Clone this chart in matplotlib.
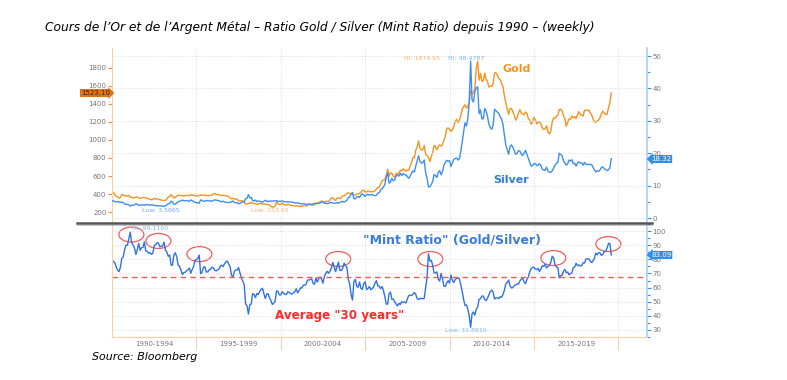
import numpy as np
import pandas as pd
import matplotlib
matplotlib.use("Agg")
import matplotlib.pyplot as plt
from matplotlib.patches import Ellipse
from matplotlib.lines import Line2D
from matplotlib.ticker import MultipleLocator, FixedLocator, NullFormatter
from matplotlib import font_manager

# monthly gold price (USD/oz), Jan 1990 .. Aug 2019
gold = [
    410, 417, 393, 374, 369, 352, 362, 395, 389, 381, 381, 378,  # 1990
    384, 364, 363, 358, 357, 367, 368, 356, 349, 359, 360, 361,  # 1991
    354, 354, 345, 338, 337, 341, 353, 343, 345, 344, 335, 334,  # 1992
    329, 329, 330, 342, 367, 372, 392, 378, 355, 364, 374, 383,  # 1993
    387, 382, 384, 377, 381, 386, 385, 380, 391, 389, 384, 380,  # 1994
    379, 377, 382, 391, 385, 387, 386, 383, 383, 383, 386, 387,  # 1995
    400, 405, 396, 393, 392, 385, 383, 387, 383, 381, 378, 369,  # 1996
    355, 347, 352, 344, 344, 341, 324, 324, 323, 325, 306, 289,  # 1997
    289, 297, 296, 308, 299, 292, 293, 284, 289, 296, 294, 291,  # 1998
    287, 287, 286, 282, 277, 262, 254, 257, 265, 311, 293, 283,  # 1999
    285, 301, 286, 280, 275, 286, 282, 274, 273, 270, 266, 272,  # 2000
    266, 262, 263, 261, 272, 270, 268, 273, 283, 283, 276, 276,  # 2001
    282, 296, 294, 303, 314, 322, 313, 310, 319, 317, 319, 333,  # 2002
    356, 359, 340, 328, 355, 356, 351, 360, 379, 378, 390, 407,  # 2003
    414, 405, 406, 404, 384, 392, 398, 400, 406, 420, 439, 442,  # 2004
    424, 423, 434, 429, 422, 430, 424, 437, 456, 470, 476, 510,  # 2005
    549, 555, 557, 610, 676, 596, 633, 632, 598, 586, 627, 629,  # 2006
    631, 665, 655, 679, 667, 655, 665, 665, 712, 754, 806, 803,  # 2007
    889, 922, 990, 909, 888, 889, 939, 839, 829, 806, 760, 816,  # 2008
    858, 943, 924, 890, 928, 945, 934, 949, 996, 1043, 1127, 1135,  # 2009
    1118, 1095, 1113, 1148, 1205, 1232, 1193, 1215, 1271, 1343, 1370, 1391,  # 2010
    1356, 1372, 1424, 1547, 1510, 1529, 1572, 1800, 1875, 1665, 1739, 1652,  # 2011
    1656, 1743, 1675, 1649, 1589, 1598, 1594, 1630, 1745, 1747, 1722, 1684,  # 2012
    1671, 1627, 1593, 1487, 1414, 1343, 1286, 1347, 1349, 1316, 1276, 1222,  # 2013
    1244, 1300, 1336, 1299, 1287, 1279, 1311, 1296, 1239, 1222, 1176, 1202,  # 2014
    1251, 1227, 1178, 1198, 1199, 1181, 1131, 1117, 1125, 1159, 1086, 1068,  # 2015
    1097, 1200, 1246, 1242, 1260, 1276, 1337, 1341, 1326, 1266, 1238, 1152,  # 2016
    1192, 1234, 1231, 1266, 1246, 1260, 1236, 1283, 1315, 1280, 1283, 1265,  # 2017
    1331, 1331, 1325, 1335, 1303, 1282, 1238, 1202, 1198, 1215, 1221, 1250,  # 2018
    1291, 1320, 1300, 1285, 1284, 1359, 1413, 1523.10,  # 2019
]

# monthly silver price (USD/oz)
silver = [
    5.22, 5.30, 5.07, 5.02, 5.10, 4.94, 4.86, 4.89, 4.76, 4.37, 4.23, 4.20,  # 1990
    4.05, 3.67, 3.96, 3.97, 4.06, 4.40, 4.24, 3.90, 4.04, 4.07, 4.07, 3.91,  # 1991
    4.12, 4.13, 4.09, 3.99, 4.03, 4.05, 3.94, 3.80, 3.76, 3.76, 3.77, 3.74,  # 1992
    3.68, 3.57, 3.81, 4.02, 4.47, 4.48, 5.16, 4.99, 4.27, 4.30, 4.57, 5.04,  # 1993
    5.16, 5.27, 5.55, 5.34, 5.38, 5.37, 5.30, 5.15, 5.58, 5.34, 5.13, 4.80,  # 1994
    4.75, 4.68, 4.60, 5.60, 5.44, 5.21, 5.16, 5.39, 5.39, 5.29, 5.30, 5.20,  # 1995
    5.40, 5.60, 5.52, 5.42, 5.37, 5.12, 5.05, 5.17, 4.98, 4.87, 4.80, 4.81,  # 1996
    4.76, 5.05, 5.24, 4.80, 4.75, 4.71, 4.37, 4.60, 4.85, 5.03, 4.94, 5.97,  # 1997
    6.14, 7.20, 6.19, 6.37, 5.36, 5.31, 5.54, 5.09, 5.25, 5.18, 5.01, 4.89,  # 1998
    5.16, 5.49, 5.17, 5.06, 5.25, 5.16, 5.29, 5.24, 5.26, 5.39, 5.11, 5.16,  # 1999
    5.20, 5.27, 5.11, 5.06, 5.00, 5.01, 5.00, 4.91, 4.93, 4.80, 4.66, 4.60,  # 2000
    4.73, 4.54, 4.40, 4.37, 4.41, 4.38, 4.30, 4.19, 4.33, 4.30, 4.17, 4.39,  # 2001
    4.52, 4.43, 4.60, 4.56, 4.66, 4.88, 4.96, 4.56, 4.56, 4.43, 4.55, 4.65,  # 2002
    4.82, 4.61, 4.57, 4.60, 4.75, 4.56, 4.86, 4.99, 5.16, 4.89, 5.16, 5.47,  # 2003
    6.28, 6.46, 7.39, 7.90, 5.97, 5.96, 6.53, 6.65, 6.35, 7.07, 7.48, 7.03,  # 2004
    6.61, 7.22, 7.31, 7.07, 7.22, 7.26, 7.01, 6.92, 7.03, 7.68, 7.80, 8.61,  # 2005
    9.04, 9.59, 10.39, 12.63, 14.00, 10.75, 11.15, 12.22, 11.53, 11.72, 12.96, 13.39,  # 2006
    12.92, 13.85, 13.09, 13.74, 13.38, 13.34, 12.81, 12.24, 13.03, 13.88, 14.58, 14.22,  # 2007
    16.10, 17.68, 19.23, 17.41, 16.96, 17.08, 17.93, 14.02, 12.36, 9.60, 9.66, 10.29,  # 2008
    11.31, 13.39, 13.11, 12.53, 14.07, 14.63, 13.33, 14.32, 16.35, 17.16, 17.81, 17.49,  # 2009
    17.71, 15.89, 17.09, 18.08, 18.35, 18.52, 17.90, 18.31, 20.61, 23.45, 26.56, 29.40,  # 2010
    28.41, 30.65, 35.78, 48.48, 36.50, 35.80, 38.90, 40.20, 40.50, 32.20, 33.40, 30.60,  # 2011
    30.70, 33.80, 33.00, 31.40, 28.90, 27.90, 27.40, 28.70, 33.60, 33.10, 32.70, 32.30,  # 2012
    31.20, 30.60, 28.90, 25.60, 22.60, 21.10, 19.70, 22.00, 22.60, 21.90, 20.80, 19.70,  # 2013
    19.90, 20.80, 20.70, 19.70, 19.30, 20.00, 20.90, 19.70, 18.40, 17.20, 16.00, 16.20,  # 2014
    16.80, 16.80, 16.20, 16.30, 16.80, 16.10, 15.00, 14.90, 14.70, 15.70, 14.50, 14.10,  # 2015
    14.10, 14.60, 15.40, 16.30, 16.90, 17.20, 20.00, 19.60, 19.30, 17.70, 17.00, 16.30,  # 2016
    16.80, 17.90, 17.60, 18.00, 16.80, 16.90, 16.00, 17.00, 17.30, 17.00, 17.00, 16.30,  # 2017
    17.20, 16.60, 16.50, 16.60, 16.50, 16.50, 15.70, 14.90, 14.20, 14.60, 14.40, 14.80,  # 2018
    15.60, 15.80, 15.20, 15.00, 14.60, 14.90, 15.50, 18.32,  # 2019
]

gold_ticks = [200, 400, 600, 800, 1000, 1200, 1400, 1600, 1800]
silver_ticks = [0, 10, 20, 30, 40, 50]
ratio_ticks = [30, 40, 50, 60, 70, 80, 90, 100]
period_labels = ["1990-1994", "1995-1999", "2000-2004", "2005-2009",
                 "2010-2014", "2015-2019"]
ratio_average = 67.4
# peaks circled on the ratio chart (year, ratio)
circled_peaks = [(1991.15, 97.5), (1992.75, 93.0), (1995.18, 83.7), (2003.4, 80.2),
                 (2008.86, 80.2), (2016.15, 80.9), (2019.41, 90.8)]

W, H = 787, 380
ORANGE = "#f7931e"
BLUE = "#3d8ef2"
RATIO_BLUE = "#2f72e4"
GRID = "#dedede"


def fx(x):
    return x / W


def fy(y):
    return 1 - y / H


# pick a narrow font for the title if one is installed
installed = {f.name for f in font_manager.fontManager.ttflist}
narrow = [f for f in ["Liberation Sans Narrow", "DejaVu Sans Condensed"] if f in installed]
if narrow:
    title_font = dict(family=narrow[0], fontsize=10)
    source_font = dict(family=narrow[0], fontsize=9.5)
else:
    title_font = dict(family="DejaVu Sans", fontsize=8.8)
    source_font = dict(family="DejaVu Sans", fontsize=7.9)

months = pd.date_range("1990-01-01", periods=len(gold), freq="MS")
t = months.year + (months.month - 1) / 12
gold_a = np.array(gold, dtype=float)
silver_a = np.array(silver, dtype=float)
ratio = gold_a / silver_a

fig = plt.figure(figsize=(W / 100, H / 100), dpi=100)
fig.patch.set_facecolor("white")

x0, x1 = 112, 647
ax1 = fig.add_axes([fx(x0), fy(222), (x1 - x0) / W, (222 - 48) / H])
ax1r = ax1.twinx()
ax2 = fig.add_axes([fx(x0), fy(337), (x1 - x0) / W, (337 - 224) / H])

xlim = (1990.0, 2021.7)
five_years = [1995, 2000, 2005, 2010, 2015, 2020]

# --- top panel: gold (left) & silver (right)
ax1.plot(t, gold_a, color=ORANGE, lw=1.0)
ax1r.plot(t, silver_a, color=BLUE, lw=1.0)
ax1.set_xlim(*xlim)
ax1.set_ylim(89, 2022)
ax1r.set_ylim(-1.23, 52.5)
ax1.set_yticks(gold_ticks)
ax1r.set_yticks(silver_ticks)
ax1r.yaxis.set_minor_locator(MultipleLocator(5))
ax1.xaxis.set_major_locator(FixedLocator(five_years))
ax1.tick_params(axis="x", length=0, labelbottom=False)
ax1.tick_params(axis="y", colors=ORANGE, labelcolor="#777777", labelsize=5,
                length=3, width=0.8, pad=1)
ax1r.tick_params(axis="y", which="both", colors=BLUE, labelcolor="#777777",
                 labelsize=5, length=3, width=0.8, pad=1)
ax1r.tick_params(axis="y", which="minor", length=2)
ax1.grid(axis="x", color=GRID, ls=":", lw=0.7)
ax1r.grid(axis="y", color=GRID, ls=":", lw=0.7)
for ax in (ax1, ax1r):
    for s in ax.spines.values():
        s.set_visible(False)
ax1.spines["left"].set_visible(True)
ax1.spines["left"].set_color("#f9cfa6")
ax1r.spines["right"].set_visible(True)
ax1r.spines["right"].set_color("#a9d0f7")
ax1r.spines["right"].set_linewidth(1.2)

# --- bottom panel: mint ratio
ax2.plot(t, ratio, color=RATIO_BLUE, lw=1.0)
ax2.axhline(ratio_average, color="#ff5555", ls=(0, (4, 3)), lw=1.0)
ax2.set_xlim(*xlim)
ax2.set_ylim(25, 105)
ax2.yaxis.tick_right()
ax2.set_yticks(ratio_ticks)
ax2.yaxis.set_minor_locator(MultipleLocator(5))
ax2.tick_params(axis="y", which="both", colors=BLUE, labelcolor="#777777",
                labelsize=5, length=3, width=0.8, pad=1)
ax2.tick_params(axis="y", which="minor", length=2)
ax2.xaxis.set_major_locator(FixedLocator(five_years))
ax2.xaxis.set_major_formatter(NullFormatter())
ax2.xaxis.set_minor_locator(FixedLocator([y + 2.5 for y in range(1990, 2020, 5)]))
ax2.set_xticklabels(period_labels, minor=True)
ax2.tick_params(axis="x", which="major", colors="#f9cfa6", length=9, width=0.8)
ax2.tick_params(axis="x", which="minor", length=0, labelsize=5,
                labelcolor="#777777", pad=3)
ax2.grid(axis="both", which="major", color=GRID, ls=":", lw=0.7)
for s in ax2.spines.values():
    s.set_visible(False)
ax2.spines["left"].set_visible(True)
ax2.spines["left"].set_color("#f9cfa6")
ax2.spines["bottom"].set_visible(True)
ax2.spines["bottom"].set_color("#f9cfa6")
ax2.spines["right"].set_visible(True)
ax2.spines["right"].set_color("#a9d0f7")
ax2.spines["right"].set_linewidth(1.2)

for cx, cy in circled_peaks:
    ax2.add_patch(Ellipse((cx, cy), 1.48, 10.6, fill=False, ec="#f05a5a", lw=0.9))

# separator between panels
fig.add_artist(Line2D([fx(77), fx(652)], [fy(222.5), fy(222.5)], color="#555555", lw=1.8))
fig.add_artist(Line2D([fx(77), fx(652)], [fy(225), fy(225)], color="#bbbbbb", lw=0.6))

# labels on the charts
fig.text(fx(517), fy(69), "Gold", color=ORANGE, fontsize=8, fontweight="bold",
         ha="center", va="center")
fig.text(fx(511), fy(180), "Silver", color="#2f7be0", fontsize=8, fontweight="bold",
         ha="center", va="center")
fig.text(fx(452), fy(240), '"Mint Ratio" (Gold/Silver)', color="#3a7be0", fontsize=9,
         fontweight="bold", ha="center", va="center")
fig.text(fx(340), fy(316), 'Average "30 years"', color="#ff2a2a", fontsize=8.6,
         fontweight="bold", ha="center", va="center")

small = dict(fontsize=4.5, va="center", ha="left")
fig.text(fx(404), fy(58), "Hi: 1874.65", color="#f7b27a", **small)
fig.text(fx(448), fy(58), "Hi: 48.4787", color="#7fb5f0", **small)
fig.text(fx(142), fy(211), "Low: 3.5665", color="#6fa8ee", **small)
fig.text(fx(251), fy(211), "Low: 253.65", color="#f7b27a", **small)
fig.text(fx(132), fy(229), "Hi: 99.1160", color="#7fb5f0", **small)
fig.text(fx(445), fy(331), "Low: 31.8910", color="#7fb5f0", **small)

# last-value tags
fig.text(fx(110), fy(93), "1523.10", color="#4a2200", fontsize=5, ha="right", va="center",
         bbox=dict(boxstyle="rarrow,pad=0.15", fc="#dd7418", ec="none"))
fig.text(fx(651), fy(159), "18.32", color="white", fontsize=5, ha="left", va="center",
         bbox=dict(boxstyle="larrow,pad=0.15", fc="#2f8ef0", ec="none"))
fig.text(fx(651), fy(255), "83.09", color="white", fontsize=5, ha="left", va="center",
         bbox=dict(boxstyle="larrow,pad=0.15", fc="#2f8ef0", ec="none"))

# title and source
fig.text(fx(45), fy(27),
         "Cours de l\u2019Or et de l\u2019Argent M\u00e9tal \u2013 Ratio Gold / Silver "
         "(Mint Ratio) depuis 1990 \u2013 (weekly)",
         style="italic", ha="left", va="center", **title_font)
fig.text(fx(92), fy(357), "Source: Bloomberg", style="italic",
         ha="left", va="center", **source_font)

fig.savefig("out.png", dpi=100)
